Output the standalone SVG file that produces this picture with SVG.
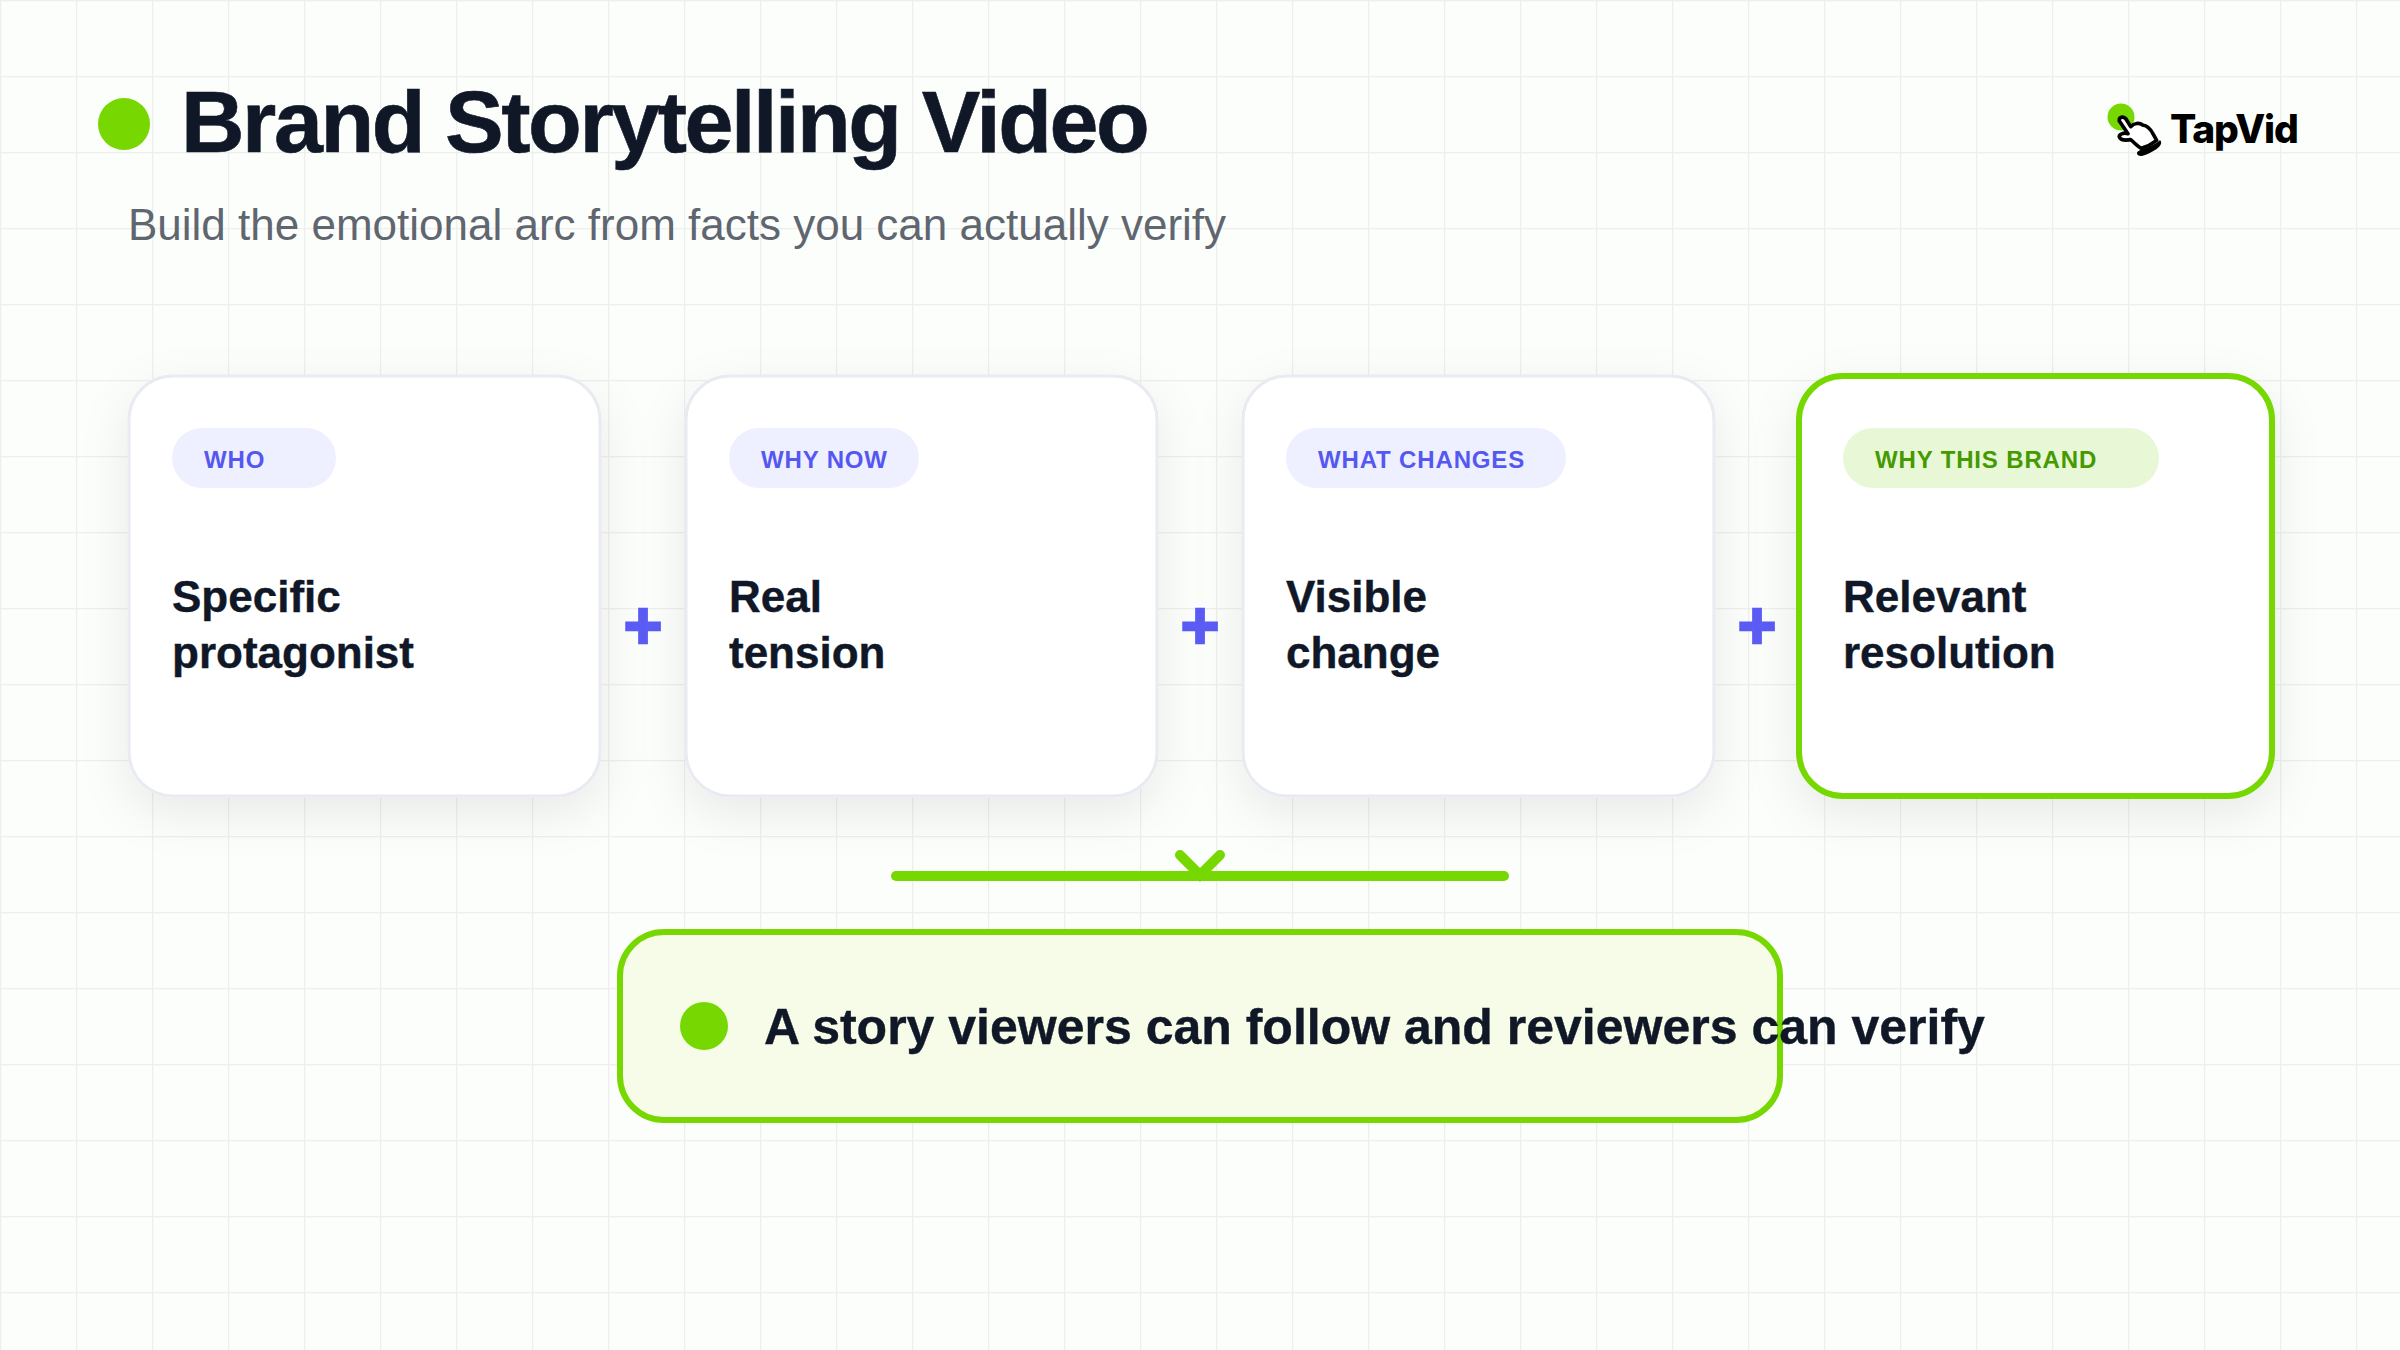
<svg xmlns="http://www.w3.org/2000/svg" width="2400" height="1350" viewBox="0 0 2400 1350">
<defs>
<pattern id="grid" width="76" height="76" patternUnits="userSpaceOnUse"><path d="M0.5 0V76M0 0.5H76" fill="none" stroke="#edefed" stroke-width="1.5"/></pattern>
<filter id="sh" x="-20%" y="-20%" width="140%" height="150%"><feDropShadow dx="0" dy="16" stdDeviation="24" flood-color="#111827" flood-opacity="0.08"/></filter>
</defs>
<style>
text{font-family:"Liberation Sans",Arial,sans-serif;font-weight:700}
.card{fill:#fff;stroke:#e9eaf2;stroke-width:3;filter:url(#sh)}
.hi{fill:#fff;stroke:#76d800;stroke-width:6;filter:url(#sh)}
.pill{fill:#eeefff}
.pillg{fill:#e8f7d6}
.tag{font-size:24px;letter-spacing:.85px;fill:#5558f0}
.tagg{font-size:24px;letter-spacing:.85px;fill:#449a00}
.ttl{font-size:44px;fill:#101828;stroke:#101828;stroke-width:.4}
.plus{font-size:66px;fill:#5b5bf6;stroke:#5b5bf6;stroke-width:2.5;text-anchor:middle}
.dot{fill:#76d800}
</style>
<rect width="2400" height="1350" fill="#fcfefb"/>
<rect width="2400" height="1350" fill="url(#grid)"/>
<g id="header">
<circle class="dot" cx="124" cy="124" r="26"/>
<text x="181" y="152" font-size="88" letter-spacing="-2.45" fill="#101828" stroke="#101828" stroke-width=".6">Brand Storytelling Video</text>
<text x="128" y="240" font-size="44" fill="#5f6670" style="font-weight:400">Build the emotional arc from facts you can actually verify</text>
</g>
<g id="logo">
<circle cx="2121" cy="117" r="13.5" fill="#76d800"/>
<g transform="translate(2100 95) scale(.3333)">
<path d="M58 78C56 66 70 62 78 72L92 95C102 84 118 82 128 90C144 92 154 106 160 118L170 136C152 150 137 156 124 160C114 156 104 144 92 134C80 136 62 136 58 126C56 118 70 112 84 116Z" fill="#fff" stroke="#000" stroke-width="11" stroke-linejoin="round"/>
<path d="M112 178C108 170 118 166 130 162C150 156 168 146 180 136C188 142 182 154 170 162C155 172 140 180 128 182C120 184 114 182 112 178Z" fill="#000"/>
</g>
<text x="2170" y="143" font-size="39" letter-spacing="-1.2" fill="#000" style="font-family:Inter,sans-serif;font-weight:800">TapVid</text>
</g>
<g id="connectors">
<text class="plus" x="643" y="648">+</text>
<text class="plus" x="1200" y="648">+</text>
<text class="plus" x="1757" y="648">+</text>
<path d="M1180 855L1200 875L1220 855" fill="none" stroke="#76d800" stroke-width="10" stroke-linecap="round"/>
<path d="M896 876H1504" fill="none" stroke="#76d800" stroke-width="10" stroke-linecap="round"/>
</g>
<g id="card-who">
<rect class="card" x="129" y="376" width="471" height="420" rx="44"/>
<rect class="pill" x="172" y="428" width="164" height="60" rx="30"/>
<text class="tag" x="204" y="467.500">WHO</text>
<text class="ttl" x="172" y="612">Specific</text>
<text class="ttl" x="172" y="668">protagonist</text>
</g>
<g id="card-why-now">
<rect class="card" x="686" y="376" width="471" height="420" rx="44"/>
<rect class="pill" x="729" y="428" width="190" height="60" rx="30"/>
<text class="tag" x="761" y="467.500">WHY NOW</text>
<text class="ttl" x="729" y="612">Real</text>
<text class="ttl" x="729" y="668">tension</text>
</g>
<g id="card-what-changes">
<rect class="card" x="1243" y="376" width="471" height="420" rx="44"/>
<rect class="pill" x="1286" y="428" width="280" height="60" rx="30"/>
<text class="tag" x="1318" y="467.500">WHAT CHANGES</text>
<text class="ttl" x="1286" y="612">Visible</text>
<text class="ttl" x="1286" y="668">change</text>
</g>
<g id="card-why-this-brand">
<rect class="hi" x="1799" y="376" width="473" height="420" rx="44"/>
<rect class="pillg" x="1843" y="428" width="316" height="60" rx="30"/>
<text class="tagg" x="1875" y="467.500">WHY THIS BRAND</text>
<text class="ttl" x="1843" y="612">Relevant</text>
<text class="ttl" x="1843" y="668">resolution</text>
</g>
<g id="result">
<rect x="620" y="932" width="1160" height="188" rx="44" fill="#f7fce9" stroke="#76d800" stroke-width="6"/>
<circle class="dot" cx="704" cy="1026" r="24"/>
<text x="764" y="1044" font-size="50" fill="#101828" stroke="#101828" stroke-width=".4">A story viewers can follow and reviewers can verify</text>
</g>
</svg>
